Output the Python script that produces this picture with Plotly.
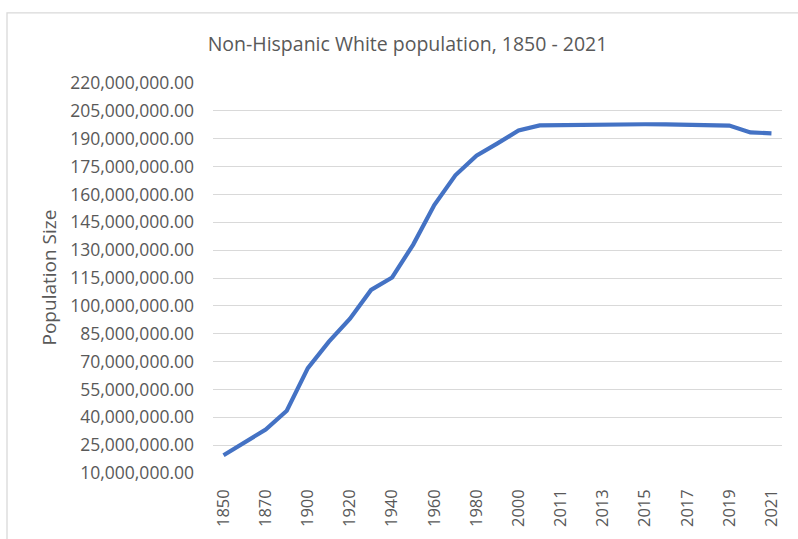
import plotly.graph_objects as go

years = ["1850", "1860", "1870", "1880", "1900", "1910", "1920", "1930", "1940",
         "1950", "1960", "1970", "1980", "1990", "2000", "2010", "2011", "2012",
         "2013", "2014", "2015", "2016", "2017", "2018", "2019", "2020", "2021"]
population = [19.6e6, 26.4e6, 33.4e6, 43.5e6, 66.5e6, 80.7e6, 93.1e6, 108.6e6, 115.3e6,
              133.0e6, 154.3e6, 170.3e6, 180.9e6, 187.5e6, 194.4e6, 197.2e6, 197.4e6, 197.5e6,
              197.7e6, 197.8e6, 197.8e6, 197.7e6, 197.5e6, 197.3e6, 197.1e6, 193.4e6, 192.9e6]
y_ticks = list(range(10_000_000, 220_000_001, 15_000_000))
x_labels = years[::2]

FONT = "Open Sans"
GREY = "#595959"
W, H = 798, 539
L, R, T, B = 213, 16, 83, 61
pw, ph = W - L - R, H - T - B

fig = go.Figure(go.Scatter(
    x=years, y=population, mode="lines",
    line=dict(color="#4472C4", width=4.2),
))

fig.update_layout(
    width=W, height=H,
    margin=dict(l=L, r=R, t=T, b=B, pad=0),
    paper_bgcolor="white", plot_bgcolor="white",
    showlegend=False,
    font=dict(family=FONT, color=GREY, size=16),
    title=dict(text="Non-Hispanic White population, 1850 - 2021",
               font=dict(family=FONT, size=19.5, color=GREY),
               xref="container", yref="container",
               x=407.5 / W, y=1 - 44 / H, xanchor="center", yanchor="middle"),
)

fig.update_xaxes(
    type="category", tickmode="array", tickvals=x_labels, ticktext=x_labels,
    range=[-0.5, len(years) - 0.5],
    tickangle=-90, tickfont=dict(family=FONT, size=16.5, color=GREY),
    showgrid=False, showline=False, zeroline=False, ticks="",
    ticklabelstandoff=12,
)
fig.update_yaxes(
    range=[10_000_000, 220_000_000], tickmode="array", tickvals=y_ticks,
    tickformat=",.2f", tickfont=dict(family=FONT, size=17.5, color=GREY),
    showgrid=True, gridcolor="#D9D9D9", gridwidth=1.3,
    showline=False, zeroline=False, ticks="", ticklabelstandoff=18,
)

fig.add_annotation(
    text="Population Size", textangle=-90, showarrow=False,
    xref="paper", yref="paper", x=(48.5 - L) / pw, y=0.5,
    xanchor="center", yanchor="middle",
    font=dict(family=FONT, size=19, color=GREY),
)

fig.add_shape(
    type="rect", xref="paper", yref="paper",
    x0=(7 - L) / pw, x1=(W + 5 - L) / pw,
    y0=(H - T - (H + 5)) / ph + 0, y1=(H - B - 12) / ph,
    line=dict(color="#D9D9D9", width=1.3), fillcolor="rgba(0,0,0,0)", layer="below",
)

fig.write_html("out.html")
